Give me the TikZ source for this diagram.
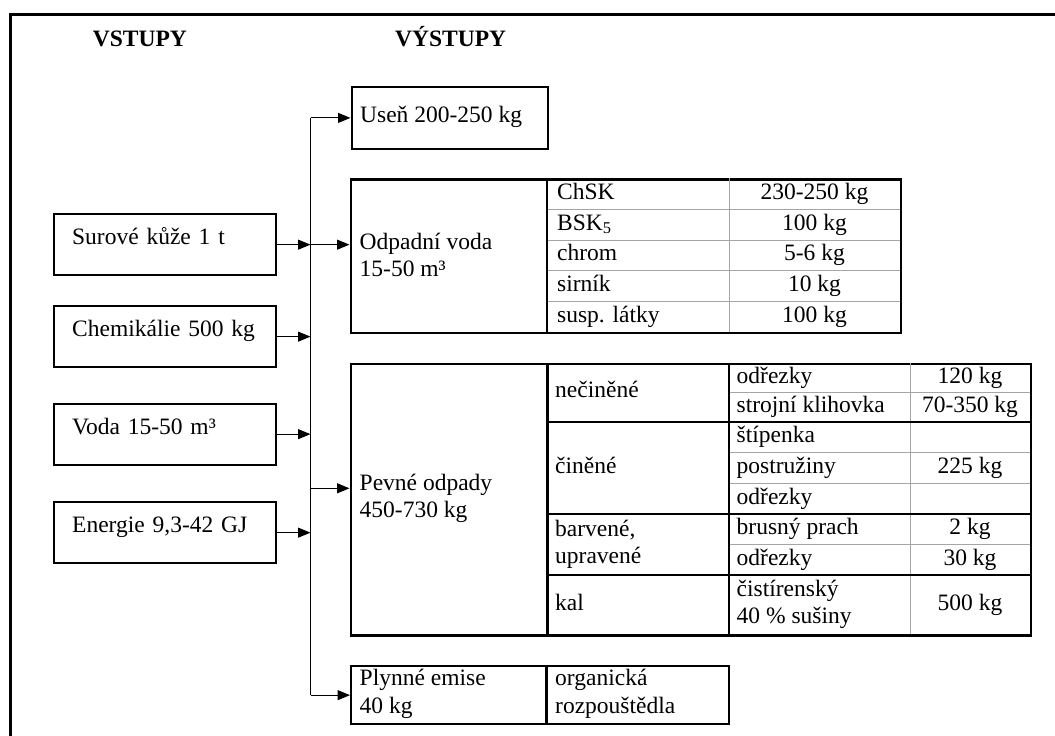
\documentclass[tikz,border=0pt]{standalone}
\usepackage{fontspec}
\setmainfont{Liberation Serif}
\usetikzlibrary{arrows.meta}
\definecolor{tgray}{RGB}{165,165,165}
\begin{document}
\begin{tikzpicture}[x=1pt,y=-1pt,
  every node/.style={font=\fontsize{23.5}{27.5}\selectfont, inner sep=0pt},
  inbox/.style={draw, line width=2.3pt, minimum height=61pt, text width=186pt, inner xsep=18pt, align=left, text height=11pt, text depth=11pt, anchor=north west},
  tbl/.style={draw, line width=2.3pt, anchor=north west},
  txt/.style={anchor=west, text height=17pt, text depth=6pt},
  ctxt/.style={text height=17pt, text depth=6pt},
  mtxt/.style={anchor=west, align=left},
  bl/.style={line width=2.3pt},
  gl/.style={line width=1pt, tgray},
  conn/.style={line width=1.1pt},
  arr/.style={line width=1.1pt, -{Triangle[length=12.5pt,width=10pt]}}
]
\useasboundingbox (0,0) rectangle (1055,736);
% outer frame
\draw[line width=2.3pt] (10.5,736) -- (10.5,14.5) -- (1055,14.5);

% headings
\node[anchor=base west, font=\fontsize{23.5}{27.5}\selectfont\bfseries] (hin) at (92.7,46.7) {VSTUPY};
\node[anchor=base west, font=\fontsize{23.5}{27.5}\selectfont\bfseries] (hout) at (395,46.7) {VÝSTUPY};

% inputs
\node[inbox] (in1) at (53,213) {Surové kůže 1 t};
\node[inbox] (in2) at (53,305) {Chemikálie 500 kg};
\node[inbox] (in3) at (53,402.5) {Voda 15-50 m³};
\node[inbox] (in4) at (53,501) {Energie 9,3-42 GJ};

% output boxes
\node[tbl, minimum width=196pt, minimum height=61.5pt] (usen) at (350.5,86) {};
\node[txt] (tusen) at (360,116.8) {Useň 200-250 kg};

\node[tbl, minimum width=550.5pt, minimum height=153.5pt] (odp) at (349.5,178.3) {};
\node[tbl, minimum width=680.5pt, minimum height=271.6pt] (pev) at (349.5,362.7) {};
\node[tbl, minimum width=378pt, minimum height=58pt] (ply) at (350,665) {};

% Odpadni voda grid
\draw[gl] (729,178.3) -- (729,331.8);
\foreach \yy in {209.3,240,270.5,301} \draw[gl] (547,\yy) -- (900,\yy);
\draw[bl] (547,178.3) -- (547,331.8);

% Pevne odpady grid
\draw[gl] (910,362.7) -- (910,634.3);
\foreach \yy in {392,452.3,483.3,544.3} \draw[gl] (729,\yy) -- (1030,\yy);
\foreach \yy in {422,514,575} \draw[bl] (547.5,\yy) -- (1030,\yy);
\draw[bl] (547.5,362.7) -- (547.5,634.3);
\draw[bl] (729,362.7) -- (729,634.3);

% Plynne grid
\draw[bl] (546.5,665) -- (546.5,723);

% connectors
\coordinate (busx) at (310.5,0);
\coordinate (pin) at (310.5,488.3);
\draw[conn] (busx |- usen.west) -- (busx |- ply.west);
\draw[arr] (in1.east) -- (in1.east -| busx);
\draw[arr] (in2.east) -- (in2.east -| busx);
\draw[arr] (in3.east) -- (in3.east -| busx);
\draw[arr] (in4.east) -- (in4.east -| busx);
\draw[arr] (busx |- usen.west) -- (usen.west);
\draw[arr] (in1.east -| busx) -- (in1.east -| odp.west);
\draw[arr] (pin) -- (pin -| pev.west);
\draw[arr] (busx |- ply.west) -- (ply.west);

% Odpadni voda texts
\node[mtxt] (o0) at (359.5,255) {Odpadní voda\\15-50 m³};
\node[txt] (o1) at (557,193.8) {ChSK};
\node[txt] (o2) at (557,224.6) {BSK\textsubscript{5}};
\node[txt] (o3) at (557,255.2) {chrom};
\node[txt] (o4) at (557,285.7) {sirník};
\node[txt] (o5) at (557,316.5) {susp. látky};
\node[ctxt] (v1) at (814.5,193.8) {230-250 kg};
\node[ctxt] (v2) at (814.5,224.6) {100 kg};
\node[ctxt] (v3) at (814.5,255.2) {5-6 kg};
\node[ctxt] (v4) at (814.5,285.7) {10 kg};
\node[ctxt] (v5) at (814.5,316.5) {100 kg};

% Pevne odpady texts
\node[mtxt] (p0) at (359.5,498.5) {Pevné odpady\\450-730 kg};
\node[txt] (p1) at (555,392.2) {nečiněné};
\node[txt] (p2) at (555,468) {činěné};
\node[mtxt] (p3) at (555,544.5) {barvené,\\upravené};
\node[txt] (p4) at (555,604.5) {kal};
\node[txt] (q1) at (736.5,377.5) {odřezky};
\node[txt] (q2) at (736.5,407) {strojní klihovka};
\node[txt] (q3) at (736.5,437) {štípenka};
\node[txt] (q4) at (736.5,467.8) {postružiny};
\node[txt] (q5) at (736.5,498.6) {odřezky};
\node[txt] (q6) at (736.5,529.2) {brusný prach};
\node[txt] (q7) at (736.5,559.6) {odřezky};
\node[mtxt] (q8) at (736.5,604.5) {čistírenský\\40 \% sušiny};
\node[ctxt] (w1) at (970,377.5) {120 kg};
\node[ctxt] (w2) at (970,407) {70-350 kg};
\node[ctxt] (w4) at (970,467.8) {225 kg};
\node[ctxt] (w6) at (970,529.2) {2 kg};
\node[ctxt] (w7) at (970,559.6) {30 kg};
\node[ctxt] (w8) at (970,604.5) {500 kg};

% Plynne texts
\node[mtxt] (g0) at (359.5,694) {Plynné emise\\40 kg};
\node[mtxt] (g1) at (555,694) {organická\\rozpouštědla};
\end{tikzpicture}
\end{document}
